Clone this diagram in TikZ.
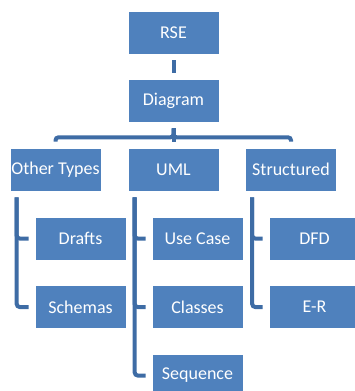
\documentclass[tikz,border=0pt]{standalone}
\usepackage{fontspec}
\setmainfont{Carlito}
\usepackage{tikz}
\usetikzlibrary{positioning, calc}
\definecolor{boxblue}{HTML}{4F81BD}
\definecolor{lineblue}{HTML}{3E6CA5}

\begin{document}
\begin{tikzpicture}[x=1pt, y=-1pt,
    box/.style={fill=boxblue, draw=white, line width=0.6pt, text=white,
        minimum width=91pt, minimum height=43pt, inner sep=0pt,
        font=\fontsize{18}{20}\selectfont},
    conn/.style={lineblue, line width=4pt, rounded corners=3pt,
        shorten <=6pt, shorten >=6pt}]
    \useasboundingbox (0,0) rectangle (354,391);
    % Ebene 1 und 2
    \node[box] (rse) at (173.5, 32.5) {RSE};
    \node[box] (diagram) at (173.5, 100.5) {Diagram};
    % Kategorien
    \foreach \x/\name/\lbl in {55.5/other/{Other Types}, 173.5/uml/UML, 291/struct/Structured} {
        \node[box] (\name) at (\x, 169.5) {\lbl};
    }
    % Blaetter: {x}{y}{name}{label}
    \foreach \x/\y/\name/\lbl in {
        80.5/238.5/drafts/Drafts,
        80.5/307/schemas/Schemas,
        197.5/238.5/usecase/{Use Case},
        197.5/307/classes/Classes,
        197.5/375.5/sequence/Sequence,
        314.5/238.5/dfd/DFD,
        314.5/307/er/E-R
    } {
        \node[box] (\name) at (\x, \y) {\lbl};
    }
    % Verbindungen
    \draw[conn] (rse) -- (diagram);
    \foreach \child in {other, uml, struct} {
        \draw[conn] (diagram.south) -- ++(0,15) -| (\child.north);
    }
    \foreach \parent/\child in {other/drafts, other/schemas, uml/usecase, uml/classes,
        uml/sequence, struct/dfd, struct/er} {
        \draw[conn] ([xshift=7pt]\parent.south west) |- (\child.west);
    }
\end{tikzpicture}
\end{document}
